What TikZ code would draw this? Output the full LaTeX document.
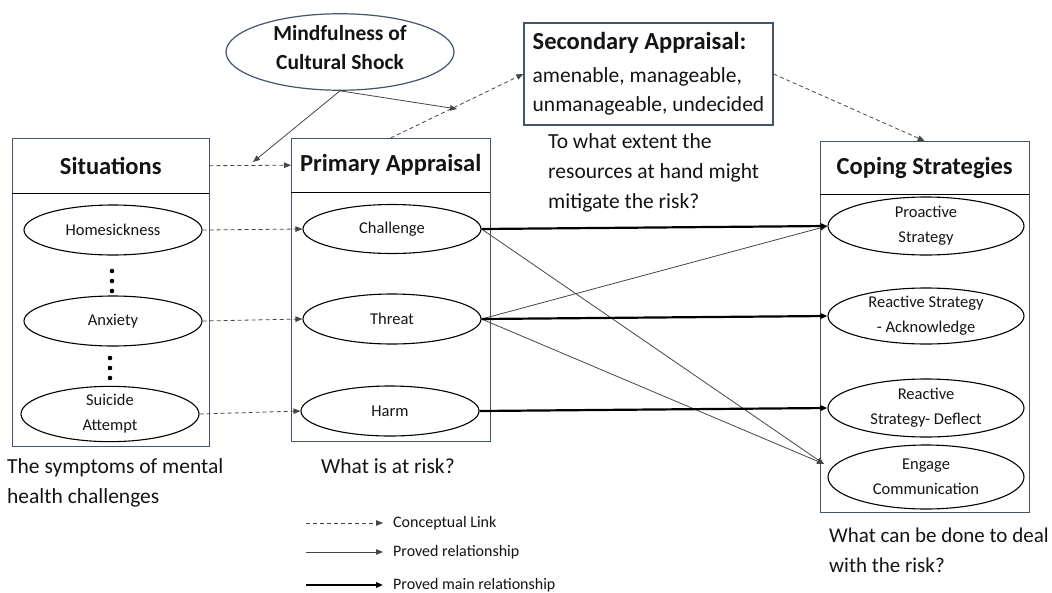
\documentclass[tikz,border=0pt]{standalone}
\usepackage{fontspec}
\setmainfont{Carlito}
\usetikzlibrary{arrows.meta,shapes.geometric}
\definecolor{boxc}{RGB}{68,84,106}
\definecolor{linec}{RGB}{70,70,70}
\definecolor{txt}{RGB}{20,20,20}
\begin{document}
\begin{tikzpicture}[x=1pt,y=-1pt,
  frame/.style={draw=boxc,line width=1.2pt,rectangle,inner sep=0pt,anchor=north west},
  head/.style={inner sep=0pt,anchor=north west,font=\fontsize{24.5}{28}\selectfont\bfseries,text=txt},
  divider/.style={draw=black,line width=1.3pt},
  oval/.style={draw=black,line width=1.1pt,ellipse,inner sep=0pt,align=center,text=txt,
    font=\fontsize{16.5}{25}\selectfont,minimum width=178,minimum height=50},
  coval/.style={oval,minimum width=196,minimum height=58},
  note/.style={inner sep=0pt,align=left,text=txt,font=\fontsize{21.5}{30}\selectfont},
  legendtxt/.style={inner sep=0pt,anchor=west,text=txt,font=\fontsize{16}{18}\selectfont},
  tip/.style={-{Triangle[length=7pt,width=5.5pt]}},
  concept/.style={tip,draw=linec,line width=0.8pt,dash pattern=on 4pt off 3pt},
  proved/.style={tip,draw=linec,line width=0.8pt},
  mainrel/.style={tip,draw=black,line width=2.2pt},
]
\fill[white] (0,0) rectangle (1052,592);
\useasboundingbox (0,0) rectangle (1052,592);

% ---- Situations column
\node[frame,minimum width=197,minimum height=308] (sit) at (12,138) {};
\node[head,minimum width=197,minimum height=55] (sith) at (12,138) {Situations};
\draw[divider] (sith.south west) -- (sith.south east);
\node[oval] (home) at (113,230) {Homesickness};
\node[oval] (anx) at (113,321) {Anxiety};
\node[oval,minimum height=54] (sui) at (110,414) {Suicide\\Attempt};
\foreach \y in {271,281,291} \fill[black] (112,\y) circle (2.3);
\foreach \y in {358,368,378} \fill[black] (110,\y) circle (2.3);

% ---- Primary appraisal column
\node[frame,minimum width=199,minimum height=303] (pri) at (291,138) {};
\node[head,minimum width=199,minimum height=54] (prih) at (291,138) {Primary Appraisal};
\draw[divider] (prih.south west) -- (prih.south east);
\node[oval,minimum height=49] (chal) at (392,229) {Challenge};
\node[oval] (thr) at (392,319) {Threat};
\node[oval] (harm) at (390,411) {Harm};

% ---- Coping strategies column
\node[frame,minimum width=209,minimum height=371] (cop) at (820,141) {};
\node[head,minimum width=209,minimum height=53] (coph) at (820,141) {Coping Strategies};
\draw[divider] (coph.south west) -- (coph.south east);
\node[coval] (pro) at (926,226) {Proactive\\Strategy};
\node[coval,minimum height=56] (rack) at (926,316) {Reactive Strategy\\- Acknowledge};
\node[coval] (rdef) at (926,408) {Reactive\\Strategy- Deflect};
\node[coval,minimum height=64] (eng) at (926,477) {Engage\\Communication};

% ---- Top elements
\node[ellipse,draw=boxc,line width=1.2pt,minimum width=228,minimum height=58,inner sep=0pt,
  align=center,text=txt,text depth=10pt,font=\fontsize{21.5}{29}\selectfont\bfseries] (mind) at (340,52)
  {Mindfulness of\\Cultural Shock};
\node[draw=boxc,line width=1.2pt,rectangle,minimum width=249,minimum height=102,inner sep=0pt,
  align=left,text=txt,font=\fontsize{21.5}{29}\selectfont] (sec) at (648.5,74)
  {{\fontsize{24.5}{28}\selectfont\bfseries Secondary Appraisal:}\\[4pt]amenable, manageable,\\unmanageable, undecided};

% ---- Notes
\node[note,anchor=north west] (n1) at (7,458) {The symptoms of mental\\health challenges};
\node[note] (n2) at (388,466) {What is at risk?};
\node[note,anchor=north west] (n3) at (548,133) {To what extent the\\resources at hand might\\mitigate the risk?};
\node[note,anchor=north west,font=\fontsize{21}{30}\selectfont] (n4) at (829,528) {What can be done to deal\\with the risk?};

% ---- Connectors
\coordinate (m1) at (253,162);
\coordinate (m2) at (457,109);
\coordinate (engin) at (824,464);
\draw[concept] (sith.east) -- (prih.west);
\draw[proved] (mind.south) -- (m1);
\draw[proved] (mind.south) -- (m2);
\draw[concept] (prih.north) -- (sec.west);
\draw[concept] (sec.east) -- (coph.north);
\draw[concept] (home.east) -- (chal.west);
\draw[concept] (anx.east) -- (thr.west);
\draw[concept] (sui.east) -- (harm.west);
\draw[proved] (chal.east) -- (engin);
\draw[proved] (thr.east) -- (pro.west);
\draw[proved] (thr.east) -- (engin);
\draw[mainrel] (chal.east) -- (pro.west);
\draw[mainrel] (thr.east) -- (rack.west);
\draw[mainrel] (harm.east) -- (rdef.west);

% ---- Legend
\coordinate (la1) at (306,523); \coordinate (la2) at (383,523);
\coordinate (lb1) at (306,552); \coordinate (lb2) at (383,552);
\coordinate (lc1) at (306,585); \coordinate (lc2) at (383,585);
\draw[concept] (la1) -- (la2);
\draw[proved] (lb1) -- (lb2);
\draw[mainrel] (lc1) -- (lc2);
\node[legendtxt] (lt1) at (393,523) {Conceptual Link};
\node[legendtxt] (lt2) at (393,552) {Proved relationship};
\node[legendtxt] (lt3) at (393,585) {Proved main relationship};
\end{tikzpicture}
\end{document}
